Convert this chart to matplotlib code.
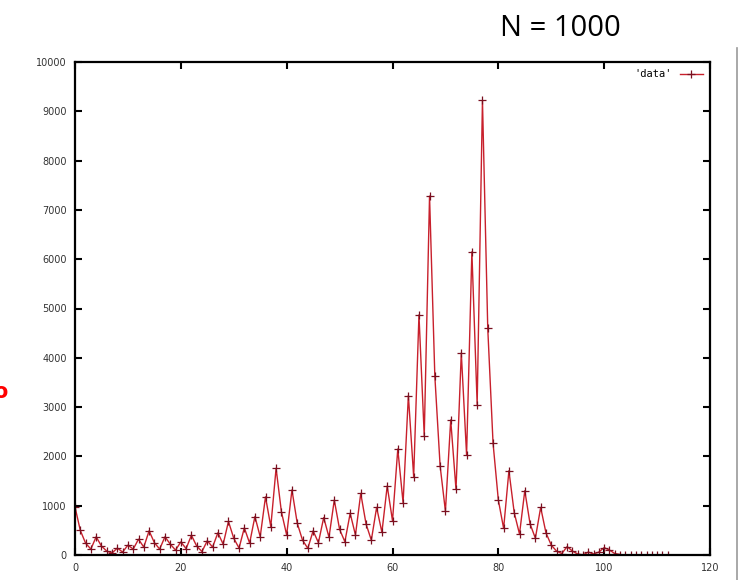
import matplotlib
matplotlib.use("Agg")
import matplotlib.pyplot as plt
from matplotlib.lines import Line2D

x_values = list(range(0, 113))
y_values = [
    975, 500, 240, 120, 370, 180, 80, 40, 140, 60,
    200, 120, 320, 160, 490, 250, 120, 370, 220, 100,
    265, 130, 400, 180, 70, 290, 160, 450, 220, 680,
    340, 140, 550, 240, 780, 370, 1180, 575, 1760, 880,
    405, 1320, 645, 300, 135, 490, 250, 760, 360, 1115,
    520, 270, 845, 405, 1250, 630, 300, 965, 460, 1400,
    695, 2150, 1060, 3235, 1590, 4870, 2415, 7280, 3630, 1805,
    890, 2740, 1330, 4100, 2030, 6150, 3050, 9220, 4600, 2270,
    1115, 540, 1710, 860, 425, 1305, 630, 340, 965, 450,
    200, 80, 30, 170, 80, 20, 0, 60, 20, 60,
    150, 100, 30, 10, 0, 0, 0, 0, 0, 0,
    0, 0, 0,
]
x_ticks = [0, 20, 40, 60, 80, 100, 120]
y_ticks = list(range(0, 10001, 1000))
title_text = "N = 1000"
series_label = "'data'"

fig = plt.figure(figsize=(7.4, 5.8), dpi=100)
ax = fig.add_axes([75/740, 1-555/580, 635/740, 493/580])

ax.plot(x_values, y_values, color="#c8202c", lw=1.0, marker="+",
        markersize=6, markeredgecolor="#7a1020", markeredgewidth=0.9,
        label=series_label)

ax.set_xlim(0, 120)
ax.set_ylim(0, 10000)
ax.set_xticks(x_ticks)
ax.set_yticks(y_ticks)
ax.tick_params(direction="in", length=5, width=1.5, labelsize=7,
               labelcolor="#333333", top=True, right=True, pad=6)
for s in ax.spines.values():
    s.set_linewidth(1.6)
    s.set_color("black")

leg = ax.legend(loc="upper right", frameon=False, handlelength=2.2,
                prop={"family": "DejaVu Sans Mono", "size": 7.5},
                markerfirst=False, borderaxespad=0.3, handletextpad=0.8)

fig.text(560/740, 1-28/580, title_text, ha="center", va="center",
         fontsize=21, family="Open Sans")
fig.text(8/740, 1-392/580, "o", ha="right", va="center", fontsize=15,
         color="red", fontweight="bold", family="DejaVu Sans")
fig.add_artist(Line2D([737/740, 737/740], [0, 1-48/580],
                      transform=fig.transFigure, color="#999999", lw=1.2))

fig.savefig("out.png", dpi=100)
